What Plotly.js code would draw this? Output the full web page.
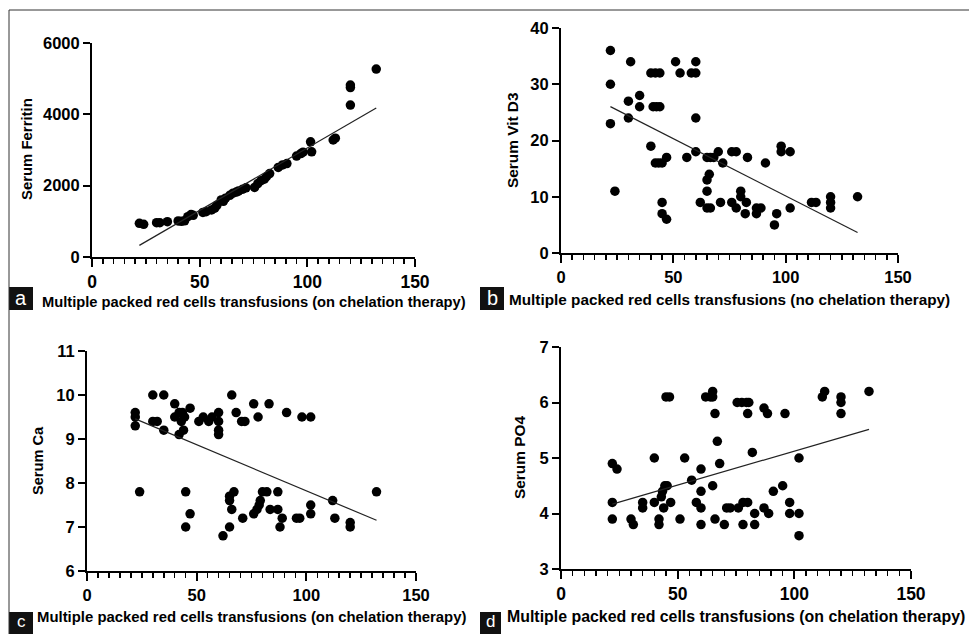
<!DOCTYPE html>
<html><head><meta charset="utf-8">
<script src="https://cdn.plot.ly/plotly-3.0.1.min.js"></script>
<style>html,body{margin:0;padding:0;background:#fff}#chart{width:969px;height:634px}</style>
</head><body><div id="chart"></div>
<script>
// ---------- data ----------
const xTitleOn = "Multiple packed red cells transfusions (on chelation therapy)";
const xTitleNo = "Multiple packed red cells transfusions (no chelation therapy)";
const panelLetters = ["a", "b", "c", "d"];
const yTitles = ["Serum Ferritin", "Serum Vit D3", "Serum Ca", "Serum PO4"];
const xTickVals = [0, 50, 100, 150];

// (a) Serum Ferritin
const ferritinX = [22, 24, 30, 31.5, 35, 40, 41.5, 43, 44.5, 46, 47, 51.5, 53, 55.5, 57, 58, 60, 61, 62, 64, 65.5, 67, 68, 70, 71.5, 75.5, 77, 78.5, 80, 81, 82.5, 86.5, 88.5, 90.5, 95, 97, 98, 101.5, 102, 112, 113, 120, 120, 120, 132];
const ferritinY = [945, 916, 962, 960, 990, 1010, 1000, 1015, 1130, 1190, 1170, 1250, 1270, 1320, 1370, 1450, 1600, 1560, 1650, 1730, 1790, 1820, 1850, 1900, 1940, 1950, 2060, 2140, 2180, 2250, 2340, 2510, 2580, 2620, 2830, 2900, 2940, 3230, 2950, 3280, 3330, 4820, 4750, 4260, 5270];
const ferritinFit = {slope: 35.0, intercept: -444};
const ferritinYTicks = [0, 2000, 4000, 6000];

// (b) Serum Vit D3
const vitdX = [22, 22, 22, 24, 30, 30, 31, 35, 35, 40, 40, 42, 44, 41, 42.5, 44, 42, 43.5, 45, 47, 45, 45, 47, 51, 53, 56, 58, 60, 60, 60, 60, 62, 65, 66, 65, 65, 66.5, 66.5, 68, 70, 71, 72, 76, 78, 76, 78, 80, 80, 82.5, 82, 83, 87, 89, 87, 91, 95, 96, 98, 98, 102, 102, 111.5, 113.5, 120, 120, 120, 132, 65];
const vitdY = [36, 30, 23, 11, 27, 24, 34, 28, 26, 32, 19, 32, 32, 26, 26, 26, 16, 16, 16, 17, 9, 7, 6, 34, 32, 17, 32, 32, 34, 24, 18, 9, 13, 14, 11, 8, 8, 17, 17, 18, 9, 16, 18, 18, 9, 8, 11, 10, 9, 7, 17, 8, 8, 7, 16, 5, 7, 19, 18, 18, 8, 9, 9, 10, 9, 8, 10, 17];
const vitdFit = {slope: -0.2033, intercept: 30.49};
const vitdYTicks = [0, 10, 20, 30, 40];

// (c) Serum Ca
const caX = [22, 22, 22, 24, 30, 35, 30, 32, 35, 40, 40, 42, 43.5, 44.5, 43, 44, 42, 47, 45, 47, 45, 51, 53, 55.5, 57, 60, 60, 60, 60, 66, 68, 70.5, 72, 76, 78, 83, 91, 98, 102, 62, 65, 65, 65, 67, 66, 71, 76, 77.5, 79, 80, 82, 78.5, 83.5, 87, 87, 89, 88, 95.5, 97, 102, 102, 112, 113, 120, 120, 132];
const caY = [9.6, 9.5, 9.3, 7.8, 10, 10, 9.4, 9.4, 9.2, 9.8, 9.5, 9.6, 9.6, 9.5, 9.4, 9.2, 9.1, 9.7, 7.8, 7.3, 7.0, 9.4, 9.5, 9.4, 9.5, 9.6, 9.4, 9.2, 9.1, 10, 9.6, 9.4, 9.4, 9.8, 9.5, 9.8, 9.6, 9.5, 9.5, 6.8, 7.0, 7.6, 7.7, 7.8, 7.4, 7.2, 7.3, 7.4, 7.6, 7.8, 7.8, 7.5, 7.4, 7.8, 7.4, 7.2, 7.0, 7.2, 7.2, 7.5, 7.3, 7.6, 7.2, 7.1, 7.0, 7.8];
const caFit = {slope: -0.02096, intercept: 9.919};
const caYTicks = [6, 7, 8, 9, 10, 11];

// (d) Serum PO4
const po4X = [22, 24, 22, 22, 30, 31, 35, 35, 40, 40, 42, 42, 44.5, 43.5, 43, 45.5, 44, 47, 45, 46.5, 51, 53, 56, 58, 60, 60, 60, 60, 62, 64, 65, 65, 65, 66, 66, 67, 68, 70, 71, 72.5, 75.5, 77.5, 79.5, 80.5, 76, 78, 80, 78, 80, 82, 83, 83, 87, 89, 87, 88.5, 91, 95, 96, 98, 98, 102, 102, 102, 112, 113, 120, 120, 120, 132];
const po4Y = [4.9, 4.8, 4.2, 3.9, 3.9, 3.8, 4.2, 4.1, 5.0, 4.2, 3.9, 3.8, 4.5, 4.4, 4.3, 4.5, 4.1, 4.2, 6.1, 6.1, 3.9, 5.0, 4.6, 4.2, 4.1, 4.8, 4.4, 3.8, 6.1, 6.1, 6.2, 6.1, 4.5, 3.9, 5.8, 5.3, 4.9, 3.8, 4.1, 4.1, 6.0, 6.0, 6.0, 6.0, 4.1, 4.2, 4.2, 3.8, 5.8, 5.1, 4.0, 3.8, 4.1, 4.0, 5.9, 5.8, 4.4, 4.5, 5.8, 4.2, 4.0, 5.0, 4.0, 3.6, 6.1, 6.2, 6.1, 6.0, 5.8, 6.2];
const po4Fit = {slope: 0.01223, intercept: 3.90};
const po4YTicks = [3, 4, 5, 6, 7];

// ---------- layout helpers ----------
const W = 969, H = 634;
const fx = v => v / W;
const fy = v => 1 - v / H;
const FONT = '"Liberation Sans", Arial, Helvetica, sans-serif';

const panels = [
  {xs: ferritinX, ys: ferritinY, fit: ferritinFit, yticks: ferritinYTicks, xt: xTitleOn,
   box: {l: 92, r: 415, t: 43, b: 257}, xf: 17.5, yf: 16.5, xtitle: {x: 253.5, y: 302, s: 14.7},
   ytitle: {x: 27, y: 149, s: 14.9}, lab: {l: 9, r: 33, t: 287, b: 310}, labY: 297.5, labS: 20},
  {xs: vitdX, ys: vitdY, fit: vitdFit, yticks: vitdYTicks, xt: xTitleNo,
   box: {l: 561, r: 898, t: 28, b: 253}, xf: 16.5, yf: 16.5, xtitle: {x: 729.5, y: 300, s: 15.3},
   ytitle: {x: 513, y: 140, s: 15.4}, lab: {l: 480, r: 504, t: 287, b: 310}, labY: 297.5, labS: 20},
  {xs: caX, ys: caY, fit: caFit, yticks: caYTicks, xt: xTitleOn,
   box: {l: 87, r: 416, t: 351, b: 571}, xf: 16.5, yf: 16.5, xtitle: {x: 251.5, y: 617, s: 14.9},
   ytitle: {x: 38, y: 461, s: 14.6}, lab: {l: 9, r: 33, t: 612, b: 634}, labY: 621, labS: 17},
  {xs: po4X, ys: po4Y, fit: po4Fit, yticks: po4YTicks, xt: xTitleOn,
   box: {l: 561, r: 911, t: 347, b: 569}, xf: 17.5, yf: 16.5, xtitle: {x: 736, y: 616, s: 15.9},
   ytitle: {x: 520, y: 458, s: 15.4}, lab: {l: 480, r: 501, t: 612, b: 634}, labY: 621, labS: 17}
];

const traces = [];
const layout = {
  width: W, height: H, margin: {l: 0, r: 0, t: 0, b: 0},
  paper_bgcolor: '#fff', plot_bgcolor: 'rgba(0,0,0,0)',
  showlegend: false, font: {family: FONT, color: '#000'},
  shapes: [], annotations: []
};

panels.forEach((p, i) => {
  const n = i === 0 ? '' : String(i + 1);
  const xa = 'x' + n, ya = 'y' + n;
  traces.push({
    type: 'scatter', mode: 'markers', x: p.xs, y: p.ys, xaxis: xa, yaxis: ya,
    marker: {color: '#000', size: 9.5}, cliponaxis: false, hoverinfo: 'x+y'
  });
  const x0 = Math.min(...p.xs), x1 = Math.max(...p.xs);
  traces.push({
    type: 'scatter', mode: 'lines', x: [x0, x1],
    y: [p.fit.intercept + p.fit.slope * x0, p.fit.intercept + p.fit.slope * x1],
    xaxis: xa, yaxis: ya, line: {color: '#222', width: 1.2}, hoverinfo: 'skip'
  });
  const ymin = p.yticks[0], ymax = p.yticks[p.yticks.length - 1];
  layout['xaxis' + n] = {
    domain: [fx(p.box.l), fx(p.box.r)], anchor: ya, range: [0, 150],
    tickmode: 'array', tickvals: xTickVals, ticks: 'outside', ticklen: 8, tickwidth: 2,
    tickcolor: '#000', showline: true, linecolor: '#000', linewidth: 2,
    showgrid: false, zeroline: false, fixedrange: true,
    tickfont: {family: FONT, size: p.xf, weight: 700, color: '#000'},
    minor: {dtick: 5, tick0: 0, ticks: 'outside', ticklen: 5, tickwidth: 1.5, tickcolor: '#000', showgrid: false}
  };
  layout['yaxis' + n] = {
    domain: [fy(p.box.b), fy(p.box.t)], anchor: xa, range: [ymin, ymax],
    tickmode: 'array', tickvals: p.yticks, ticks: 'outside', ticklen: 7, tickwidth: 2,
    tickcolor: '#000', showline: true, linecolor: '#000', linewidth: 2,
    showgrid: false, zeroline: false, fixedrange: true,
    tickfont: {family: FONT, size: p.yf, weight: 700, color: '#000'}
  };
  // axis titles
  layout.annotations.push({
    xref: 'paper', yref: 'paper', x: fx(p.xtitle.x), y: fy(p.xtitle.y),
    xanchor: 'center', yanchor: 'middle', showarrow: false, text: p.xt,
    font: {family: FONT, size: p.xtitle.s, weight: 700, color: '#000'}
  });
  layout.annotations.push({
    xref: 'paper', yref: 'paper', x: fx(p.ytitle.x), y: fy(p.ytitle.y),
    xanchor: 'center', yanchor: 'middle', showarrow: false, textangle: -90, text: yTitles[i],
    font: {family: FONT, size: p.ytitle.s, weight: 700, color: '#000'}
  });
  // panel letter box
  layout.shapes.push({
    type: 'rect', xref: 'paper', yref: 'paper',
    x0: fx(p.lab.l), x1: fx(p.lab.r), y0: fy(p.lab.b), y1: fy(p.lab.t),
    fillcolor: '#111', line: {width: 0}
  });
  layout.annotations.push({
    xref: 'paper', yref: 'paper', x: fx((p.lab.l + p.lab.r) / 2), y: fy(p.labY),
    xanchor: 'center', yanchor: 'middle', showarrow: false, text: panelLetters[i],
    font: {family: FONT, size: p.labS, color: '#fff'}, borderpad: 0
  });
});

// outer frame (top and left edges)
layout.shapes.push({type: 'line', xref: 'paper', yref: 'paper', x0: fx(9), x1: 1, y0: fy(10), y1: fy(10), line: {color: '#333', width: 1}});
layout.shapes.push({type: 'line', xref: 'paper', yref: 'paper', x0: fx(9), x1: fx(9), y0: 0, y1: fy(10), line: {color: '#333', width: 1}});

Plotly.newPlot('chart', traces, layout, {displayModeBar: false, staticPlot: true});
</script>
</body></html>
